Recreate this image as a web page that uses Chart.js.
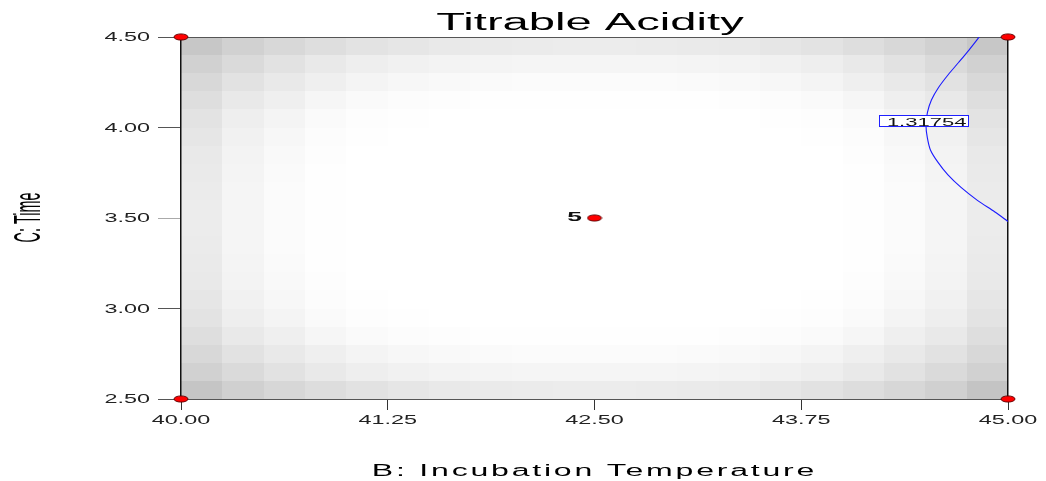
<!DOCTYPE html>
<html>
<head>
<meta charset="utf-8">
<title>Titrable Acidity</title>
<script src="https://cdn.jsdelivr.net/npm/chart.js@4.4.1/dist/chart.umd.min.js"></script>
<style>
  html, body { margin: 0; padding: 0; background: #ffffff; }
  canvas { display: block; }
</style>
</head>
<body>
<canvas id="chart" width="1046" height="481"></canvas>
<script>
// ---- chart data ----
const chartTitle = 'Titrable Acidity';
const xAxisTitle = 'B: Incubation Temperature';
const yAxisTitle = 'C: Time';

const xTicks = [40.00, 41.25, 42.50, 43.75, 45.00];
const yTicks = [2.50, 3.00, 3.50, 4.00, 4.50];

// cell edges of the shaded surface grid (B across, C down from the top)
const colEdges = [40.00, 40.25, 40.50, 40.75, 41.00, 41.25, 41.50, 41.75, 42.00, 42.25, 42.50,
                  42.75, 43.00, 43.25, 43.50, 43.75, 44.00, 44.25, 44.50, 44.75, 45.00];
const rowEdges = [4.50, 4.40, 4.30, 4.20, 4.10, 4.00, 3.90, 3.80, 3.70, 3.60, 3.50,
                  3.40, 3.30, 3.20, 3.10, 3.00, 2.90, 2.80, 2.70, 2.60, 2.50];

// grey level of each cell, top row first (255 = white)
const shade = [
  [199,209,216,222,227,230,233,234,235,236,236,235,234,233,230,227,222,216,209,199],
  [209,218,226,233,238,241,243,244,245,245,245,245,244,243,241,238,233,226,218,209],
  [216,226,233,239,244,247,249,250,251,251,251,251,250,249,247,244,239,233,226,216],
  [222,233,239,246,250,252,253,254,254,254,254,254,254,253,252,250,246,239,233,222],
  [227,238,244,250,253,254,255,255,255,255,255,255,255,255,254,253,250,244,238,227],
  [230,241,247,252,254,255,255,255,255,255,255,255,255,255,255,254,252,247,241,230],
  [233,243,249,253,255,255,255,255,255,255,255,255,255,255,255,255,253,249,243,233],
  [234,244,250,254,255,255,255,255,255,255,255,255,255,255,255,255,254,250,244,234],
  [235,245,251,254,255,255,255,255,255,255,255,255,255,255,255,255,254,251,245,235],
  [236,245,251,254,255,255,255,255,255,255,255,255,255,255,255,255,254,251,245,236],
  [236,245,251,254,255,255,255,255,255,255,255,255,255,255,255,255,254,251,245,236],
  [235,245,251,254,255,255,255,255,255,255,255,255,255,255,255,255,254,251,245,235],
  [234,244,250,254,255,255,255,255,255,255,255,255,255,255,255,255,254,250,244,234],
  [233,243,249,253,255,255,255,255,255,255,255,255,255,255,255,255,253,249,243,233],
  [230,241,247,252,254,255,255,255,255,255,255,255,255,255,255,254,252,247,241,230],
  [227,238,244,250,253,254,255,255,255,255,255,255,255,255,254,253,250,244,238,227],
  [222,233,239,246,250,252,253,254,254,254,254,254,254,253,252,250,246,239,233,222],
  [216,226,233,239,244,247,249,250,251,251,251,251,250,249,247,244,239,233,226,216],
  [209,218,226,233,238,241,243,244,245,245,245,245,244,243,241,238,233,226,218,209],
  [197,208,215,221,226,230,233,234,235,236,236,235,234,233,230,226,221,215,208,196]
];

// contour of the response at one level
const contourLevel = 1.31754;
const contourB = [44.826, 44.764, 44.701, 44.637, 44.580, 44.537, 44.513, 44.504,
                  44.512, 44.531, 44.577, 44.637, 44.716, 44.813, 44.921, 45.000];
const contourC = [4.500, 4.428, 4.359, 4.290, 4.221, 4.152, 4.083, 4.014,
                  3.945, 3.876, 3.807, 3.738, 3.669, 3.599, 3.533, 3.481];
const contourLabelB = 44.49;
const contourLabelC = 4.036;

// design points and their replicate counts
const designB = [40.0, 45.0, 40.0, 45.0, 42.5];
const designC = [2.5, 2.5, 4.5, 4.5, 3.5];
const designReps = [1, 1, 1, 1, 5];

// ---- drawing helpers ----
const FONT = '"Liberation Sans", Arial, Helvetica, sans-serif';

function wideText(ctx, text, x, y, opt) {
  ctx.save();
  ctx.translate(x, y);
  if (opt.rotate) ctx.rotate(opt.rotate);
  ctx.scale(opt.sx || 1, opt.sy || 1);
  ctx.font = opt.font;
  ctx.fillStyle = opt.color || '#000';
  ctx.textAlign = opt.align || 'left';
  ctx.textBaseline = 'alphabetic';
  if ('letterSpacing' in ctx) ctx.letterSpacing = (opt.spacing || 0) + 'px';
  ctx.fillText(text, 0, 0);
  ctx.restore();
}

function makeMarker() {
  const c = document.createElement('canvas');
  c.width = 16; c.height = 8;
  const g = c.getContext('2d');
  g.beginPath();
  g.ellipse(8, 4, 7, 3.1, 0, 0, Math.PI * 2);
  g.fillStyle = '#ff0000';
  g.fill();
  g.lineWidth = 0.9;
  g.strokeStyle = '#5a0000';
  g.stroke();
  return c;
}

// shaded cells, painted under the axes
const surfacePlugin = {
  id: 'surface',
  beforeDraw(chart) {
    const { ctx, scales: { x, y } } = chart;
    ctx.save();
    ctx.fillStyle = '#ffffff';
    ctx.fillRect(0, 0, chart.width, chart.height);
    for (let r = 0; r < shade.length; r++) {
      const y0 = Math.round(y.getPixelForValue(rowEdges[r]));
      const y1 = Math.round(y.getPixelForValue(rowEdges[r + 1]));
      for (let c = 0; c < shade[r].length; c++) {
        const x0 = Math.round(x.getPixelForValue(colEdges[c]));
        const x1 = Math.round(x.getPixelForValue(colEdges[c + 1]));
        const g = shade[r][c];
        ctx.fillStyle = `rgb(${g},${g},${g})`;
        ctx.fillRect(x0, y0, x1 - x0, y1 - y0);
      }
    }
    ctx.restore();
  }
};

// titles, tick labels, contour label and replicate count
const textPlugin = {
  id: 'texts',
  afterDraw(chart) {
    const { ctx, scales: { x, y } } = chart;
    const tickFont = '12px ' + FONT;
    x.ticks.forEach(t => {
      wideText(ctx, t.value.toFixed(2), x.getPixelForValue(t.value), 423.5,
        { font: tickFont, sx: 1.95, align: 'center', color: '#222' });
    });
    y.ticks.forEach(t => {
      wideText(ctx, t.value.toFixed(2), 150, y.getPixelForValue(t.value) + 4.2,
        { font: tickFont, sx: 1.95, align: 'right', color: '#222' });
    });

    wideText(ctx, chartTitle, 590, 29.5, { font: '23px ' + FONT, sx: 2.05, align: 'center' });
    wideText(ctx, xAxisTitle, 594.5, 475.5, { font: '16px ' + FONT, sx: 2.0, spacing: 1.4, align: 'center' });
    wideText(ctx, yAxisTitle, 39.5, 217.5,
      { font: '18px ' + FONT, rotate: -Math.PI / 2, sx: 0.8, sy: 2, align: 'center' });

    // contour value tag
    const lx = x.getPixelForValue(contourLabelB);
    const ly = y.getPixelForValue(contourLabelC);
    ctx.save();
    ctx.fillStyle = '#ffffff';
    ctx.fillRect(lx - 44.5, ly - 5.5, 89, 11);
    ctx.strokeStyle = '#2020ff';
    ctx.lineWidth = 1;
    ctx.strokeRect(Math.round(lx - 44.5) + 0.5, Math.round(ly - 5.5) + 0.5, 89, 11);
    ctx.restore();
    wideText(ctx, contourLevel.toFixed(5), lx + 3, ly + 4.8,
      { font: '11px ' + FONT, sx: 2.0, align: 'center', color: '#111' });

    // replicate counts beside design points
    designReps.forEach((n, i) => {
      if (n > 1) {
        wideText(ctx, String(n), x.getPixelForValue(designB[i]) - 12.5, y.getPixelForValue(designC[i]) + 3.2,
          { font: 'bold 12px ' + FONT, sx: 2.2, align: 'right', color: '#111' });
      }
    });
  }
};

const marker = makeMarker();

new Chart(document.getElementById('chart'), {
  type: 'scatter',
  data: {
    datasets: [
      {
        label: 'contour',
        data: contourB.map((b, i) => ({ x: b, y: contourC[i] })),
        showLine: true,
        borderColor: '#1a1aff',
        borderWidth: 1.1,
        pointRadius: 0,
        tension: 0.3,
        fill: false
      },
      {
        label: 'design',
        data: designB.map((b, i) => ({ x: b, y: designC[i] })),
        pointStyle: marker,
        pointRadius: 7,
        clip: false
      }
    ]
  },
  options: {
    responsive: false,
    animation: false,
    devicePixelRatio: 1,
    layout: { padding: 0 },
    plugins: { legend: { display: false }, tooltip: { enabled: false }, title: { display: false } },
    scales: {
      x: {
        type: 'linear', position: 'bottom', min: 40, max: 45,
        afterBuildTicks: s => { s.ticks = xTicks.map(v => ({ value: v })); },
        afterFit: s => { s.height = 82; },
        ticks: { display: false },
        grid: { drawOnChartArea: false, drawTicks: true, tickLength: 11, color: '#333', lineWidth: 1 },
        border: { display: true, color: '#555', width: 1 }
      },
      x2: {
        type: 'linear', position: 'top', min: 40, max: 45,
        afterFit: s => { s.height = 37; },
        ticks: { display: false },
        grid: { display: false },
        border: { display: true, color: '#555', width: 1 }
      },
      y: {
        type: 'linear', position: 'left', min: 2.5, max: 4.5,
        afterBuildTicks: s => { s.ticks = yTicks.map(v => ({ value: v })); },
        afterFit: s => { s.width = 181; },
        ticks: { display: false },
        grid: {
          drawOnChartArea: false, drawTicks: true, tickLength: 23, lineWidth: 1,
          color: ctx => (ctx.tick && Math.abs(ctx.tick.value - 3.5) < 1e-9) ? '#aaaaaa' : '#555555'
        },
        border: { display: true, color: '#111', width: 1.5 }
      },
      y2: {
        type: 'linear', position: 'right', min: 2.5, max: 4.5,
        afterFit: s => { s.width = 38; },
        ticks: { display: false },
        grid: { display: false },
        border: { display: true, color: '#111', width: 1.5 }
      }
    }
  },
  plugins: [surfacePlugin, textPlugin]
});
</script>
</body>
</html>
